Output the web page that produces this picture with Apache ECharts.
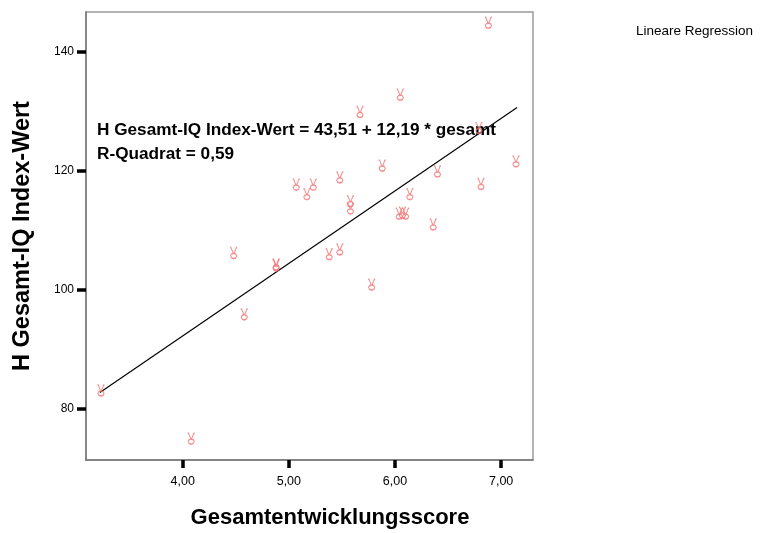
<!DOCTYPE html>
<html>
<head>
<meta charset="utf-8">
<script src="https://cdn.jsdelivr.net/npm/echarts@6/dist/echarts.min.js"></script>
<style>html,body{margin:0;padding:0;background:#fff}#c{width:782px;height:533px}</style>
</head>
<body>
<div id="c"></div>
<script>
// Data
const scoreX = [3.23, 4.08, 4.48, 4.58, 4.88, 4.88, 5.07, 5.17, 5.23, 5.38, 5.48, 5.48, 5.58, 5.58, 5.67, 5.78, 5.88, 6.05, 6.04, 6.07, 6.10, 6.14, 6.36, 6.40, 6.79, 6.81, 6.88, 7.14];
const iqY    = [83.1, 75.0, 106.2, 95.9, 104.1, 104.3, 117.7, 116.1, 117.7, 106.0, 106.8, 118.9, 114.9, 113.7, 129.9, 100.9, 120.9, 132.8, 112.8, 113.0, 112.8, 116.1, 111.0, 119.9, 127.2, 117.8, 144.9, 121.6];
const fitX = [3.22, 7.15];
const fitY = [82.76, 130.67];
const xTicks = [4, 5, 6, 7];
const yTicks = [80, 100, 120, 140];
const xTitle = 'Gesamtentwicklungsscore';
const yTitle = 'H Gesamt-IQ Index-Wert';
const equationLines = ['H Gesamt-IQ Index-Wert = 43,51 + 12,19 * gesamt', 'R-Quadrat = 0,59'];
const legendText = 'Lineare Regression';

const pts = scoreX.map((x, i) => [x, iqY[i]]);
const fit = fitX.map((x, i) => [x, fitY[i]]);
const FONT = '"Liberation Sans", Arial, sans-serif';
const glyph = 'path://M1,0 L2,0 L4.5,7 M9,0 L8,0 L5.5,7 M5,7 L7.5,8 L8.5,10 L7.5,12.5 L5,13.5 L2.5,12.5 L1.5,10 L2.5,8 Z';

const chart = echarts.init(document.getElementById('c'), null, {renderer: 'canvas'});
chart.setOption({
  animation: false,
  backgroundColor: '#fff',
  grid: {left: 86, top: 12, right: 249, bottom: 73, show: true, borderColor: '#9a9a9a', borderWidth: 1.5, backgroundColor: '#fff'},
  xAxis: {
    type: 'value', min: 3.089, max: 7.30,
    axisLine: {show: true, onZero: false, lineStyle: {color: '#777', width: 1.5}},
    axisTick: {show: true, length: 8, lineStyle: {color: '#000', width: 3.5},
      customValues: xTicks},
    axisLabel: {fontFamily: FONT, fontSize: 12.5, color: '#000', margin: 15,
      customValues: xTicks, formatter: v => v.toFixed(2).replace('.', ',')},
    splitLine: {show: false}
  },
  yAxis: {
    type: 'value', min: 71.43, max: 146.72,
    name: yTitle, nameLocation: 'middle', nameGap: 51, nameRotate: 90,
    nameTextStyle: {fontFamily: FONT, fontSize: 23.5, fontWeight: 'bold', color: '#000'},
    axisLine: {show: true, onZero: false, lineStyle: {color: '#777', width: 1.5}},
    axisTick: {show: true, length: 9, lineStyle: {color: '#000', width: 3.5},
      customValues: yTicks},
    axisLabel: {fontFamily: FONT, fontSize: 12, color: '#000', margin: 12,
      customValues: yTicks, formatter: v => String(v)},
    splitLine: {show: false}
  },
  graphic: [
    {type: 'text', left: 636, top: 24, style: {text: legendText, font: '13.5px ' + FONT, fill: '#000'}},
    {type: 'text', left: 97, top: 122, style: {text: equationLines[0], font: 'bold 17.2px ' + FONT, fill: '#000'}},
    {type: 'text', left: 97, top: 146, style: {text: equationLines[1], font: 'bold 17.2px ' + FONT, fill: '#000'}},
    {type: 'text', x: 330, y: 518, style: {text: xTitle, font: 'bold 22px ' + FONT, fill: '#000', align: 'center', verticalAlign: 'middle'}}
  ],
  series: [
    {
      type: 'line', data: fit, symbol: 'none', silent: true, z: 3,
      lineStyle: {color: '#000', width: 1.2}
    },
    {
      type: 'scatter', data: pts, symbol: glyph, symbolSize: [7, 11], z: 4,
      itemStyle: {color: 'rgba(255,255,255,0)', borderColor: '#f27373', borderWidth: 1.2}
    }
  ]
});
</script>
</body>
</html>
